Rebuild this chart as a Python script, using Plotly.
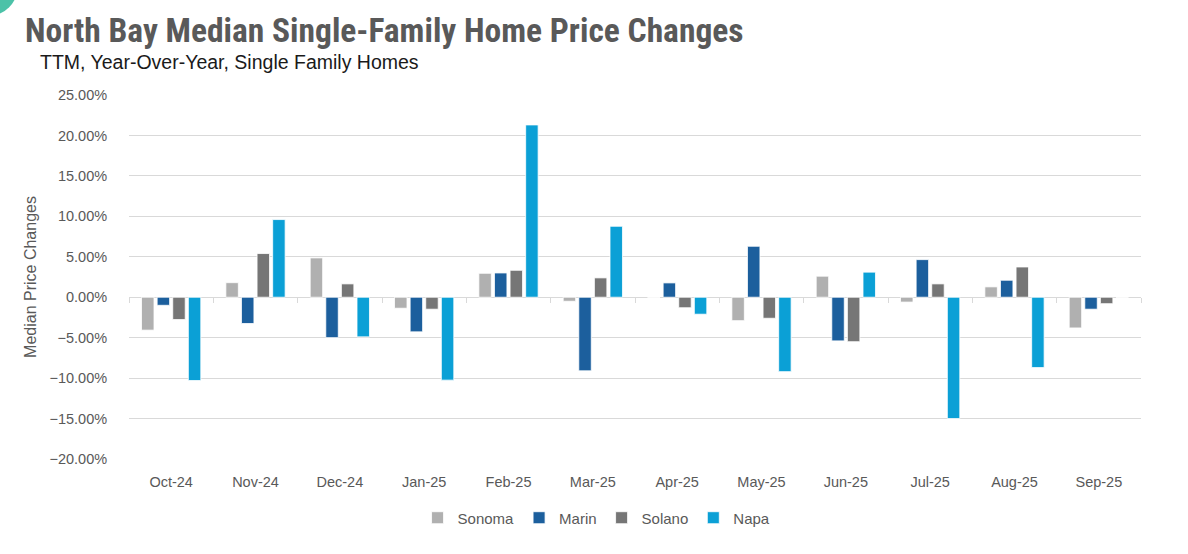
import plotly.graph_objects as go

months = ["Oct-24", "Nov-24", "Dec-24", "Jan-25", "Feb-25", "Mar-25",
          "Apr-25", "May-25", "Jun-25", "Jul-25", "Aug-25", "Sep-25"]
sonoma = [-4.07, 1.80, 4.86, -1.36, 2.96, -0.50, 0.00, -2.90, 2.60, -0.60, 1.28, -3.80]
marin = [-1.00, -3.25, -5.00, -4.28, 3.00, -9.10, 1.77, 6.30, -5.40, 4.65, 2.10, -1.48]
solano = [-2.76, 5.40, 1.65, -1.48, 3.33, 2.39, -1.30, -2.60, -5.50, 1.65, 3.74, -0.80]
napa = [-10.30, 9.60, -4.90, -10.25, 21.30, 8.77, -2.10, -9.20, 3.10, -15.00, -8.70, 0.00]

series = [("Sonoma", sonoma, "#B0B0B0"), ("Marin", marin, "#1C5F9D"),
          ("Solano", solano, "#767676"), ("Napa", napa, "#0BA0D6")]

y_min, y_max, y_step = -20, 25, 5

fig = go.Figure()
for name, vals, col in series:
    fig.add_trace(go.Bar(x=months, y=vals, name=name, marker_color=col,
                         marker_line_color="white", marker_line_width=0.8))

# invisible trace carrying the category-boundary tick axis drawn at zero
fig.add_trace(go.Scatter(x=[-0.5, len(months) - 0.5], y=[0, 0], xaxis="x2", mode="lines",
                         line=dict(width=0), showlegend=False, hoverinfo="skip"))

zero_pos = (0 - y_min) / (y_max - y_min)
gray = "#595959"
fig.update_layout(
    width=1188, height=554,
    margin=dict(l=129, r=47, t=95, b=95),
    paper_bgcolor="white", plot_bgcolor="white",
    font=dict(family="Liberation Sans, Arial", color=gray, size=14),
    barmode="group", bargap=0.26, bargroupgap=0.2,
    title=dict(text="<b>North Bay Median Single-Family Home Price Changes</b>",
               x=0, xref="container", xanchor="left", y=0.945, yref="container",
               yanchor="middle", pad=dict(l=25),
               font=dict(family="Liberation Sans Narrow, Roboto Condensed, sans-serif",
                         size=33.5, color=gray)),
    annotations=[dict(text="TTM, Year-Over-Year, Single Family Homes",
                      xref="paper", yref="paper", x=(38 - 129) / 1012, y=1.0 + (95 - 62) / 364,
                      xanchor="left", yanchor="middle", showarrow=False,
                      font=dict(family="Liberation Sans Narrow, sans-serif", size=19.5, color="#1a1a1a"))],
    xaxis=dict(type="category", showgrid=False, showline=False, ticks="outside",
               ticklen=10, tickcolor="rgba(0,0,0,0)", tickfont=dict(size=14.5, color=gray)),
    xaxis2=dict(overlaying="x", anchor="free", position=zero_pos, range=[-0.5, len(months) - 0.5],
                tickvals=[i - 0.5 for i in range(len(months) + 1)], showticklabels=False,
                ticks="outside", ticklen=5, tickcolor="#d9d9d9", showgrid=False,
                showline=False, zeroline=False),
    yaxis=dict(range=[y_min, y_max], dtick=y_step, tick0=0, tickformat=".2f", ticksuffix="%",
               gridcolor="#d9d9d9", gridwidth=1, zeroline=True, zerolinecolor="#d9d9d9",
               zerolinewidth=1, showline=False, ticks="outside", ticklen=18,
               tickcolor="rgba(0,0,0,0)", tickfont=dict(size=14.5, color=gray),
               title=dict(text="Median Price Changes", font=dict(size=16, color=gray), standoff=8)),
    legend=dict(orientation="h", x=0.462, xanchor="center", y=-0.162, yanchor="middle",
                font=dict(size=15, color=gray), itemwidth=30, traceorder="normal"),
    shapes=[dict(type="circle", xref="paper", yref="paper",
                 x0=-0.169, x1=-0.1097, y0=1.217, y1=1.382, fillcolor="#4CC2A8", line_width=0)],
)
fig.write_html("out.html", config={"displayModeBar": False},
               post_script="document.body.style.margin='0';")
